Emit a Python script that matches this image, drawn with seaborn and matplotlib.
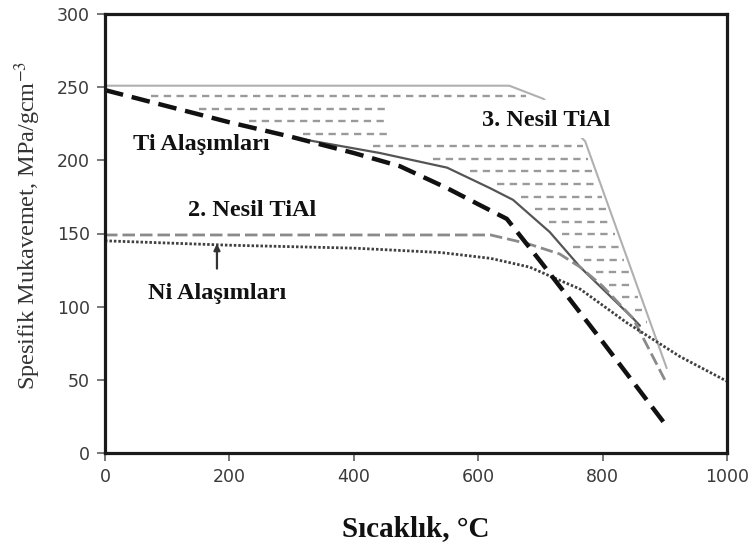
import matplotlib
matplotlib.use("Agg")
import matplotlib.pyplot as plt
import numpy as np
import seaborn as sns

# values: temperature (C) vs specific strength (MPa/gcm-3)
ti_x = [0, 100, 200, 300, 400, 474, 550, 600, 646, 700, 800, 900]
ti_y = [248, 237, 226, 216, 205, 196, 181, 170, 160, 131, 76, 20]

ti_upper_x = [310, 442, 550, 619, 656, 715, 764, 849, 860]
ti_upper_y = [215, 205, 195, 181, 173, 151, 127, 92, 87]

tial3_x = [0, 650, 705, 772, 903]
tial3_y = [251, 251, 242, 213, 58]

tial2_x = [0, 620, 680, 731, 764, 800, 849, 900]
tial2_y = [149, 149, 143, 136, 127, 114, 92, 50]

ni_x = [0, 200, 400, 540, 620, 683, 731, 764, 839, 924, 1000]
ni_y = [145, 142, 140, 137, 133, 127, 118, 112, 89, 66, 49]

x_ticks = [0, 200, 400, 600, 800, 1000]
y_ticks = [0, 50, 100, 150, 200, 250, 300]

sns.set_style("ticks")
plt.rcParams["mathtext.fontset"] = "stix"
serif = ["Liberation Serif", "DejaVu Serif"]

fig = plt.figure(figsize=(7.55, 5.46), dpi=100)
ax = fig.add_axes([105 / 755, 93 / 546, 622 / 755, 439 / 546])

# hatch of the 3rd generation TiAl field: dashed rows between the boundaries
low_x = np.array([x for x in ti_x if x < ti_upper_x[0]] + ti_upper_x, dtype=float)
low_y = np.array([y for x, y in zip(ti_x, ti_y) if x < ti_upper_x[0]] + ti_upper_y, dtype=float)
up_x = np.array(tial3_x[1:], dtype=float)
up_y = np.array(tial3_y[1:], dtype=float)
for yr in np.arange(244, 88, -8.6):
    x0 = np.interp(yr - 3, low_y[::-1], low_x[::-1]) + 10
    x1 = np.interp(yr + 2, up_y[::-1], up_x[::-1]) - 4
    if x1 > x0:
        ax.hlines(yr, x0, x1, colors="#9a9a9a", linewidth=1.7,
                  linestyles=(0, (3.1, 2.3)), zorder=1)

sns.lineplot(x=tial3_x, y=tial3_y, ax=ax, color="#b0b0b0", linewidth=1.5, zorder=2)
sns.lineplot(x=ti_upper_x, y=ti_upper_y, ax=ax, color="#555555", linewidth=1.6, zorder=2)
sns.lineplot(x=tial2_x, y=tial2_y, ax=ax, color="#8a8a8a", linewidth=2.0,
             linestyle=(0, (4.5, 1.8)), zorder=2)
sns.lineplot(x=ni_x, y=ni_y, ax=ax, color="#404040", linewidth=2.0,
             linestyle=(0, (0.9, 0.7)), zorder=2)
sns.lineplot(x=ti_x, y=ti_y, ax=ax, color="#111111", linewidth=3.2,
             linestyle=(0, (4.2, 2.0)), zorder=2)

# white patch behind the "3. Nesil TiAl" label
ax.add_patch(plt.Rectangle((453, 215), 435, 26, facecolor="white",
                           edgecolor="none", zorder=3))

lbl = dict(fontsize=17.5, fontweight="bold", family=serif, color="#111111",
           ha="center", va="center", zorder=4)
ax.text(155, 211, "Ti Alaşımları", **lbl)
ax.text(236, 166, "2. Nesil TiAl", **lbl)
ax.text(181, 109, "Ni Alaşımları", **lbl)
ax.text(709, 227, "3. Nesil TiAl", **lbl)
ax.annotate("", xy=(180, 143), xytext=(180, 126),
            arrowprops=dict(arrowstyle="-|>", color="#333333", lw=1.6,
                            mutation_scale=9, shrinkA=0, shrinkB=0))

ax.set_xlim(0, 1000)
ax.set_ylim(0, 300)
ax.set_xticks(x_ticks)
ax.set_yticks(y_ticks)
ax.tick_params(axis="both", direction="out", length=6, width=1.4,
               color="#777777", labelsize=12.5, labelcolor="#3a3a3a", pad=5)
for s in ax.spines.values():
    s.set_visible(True)
    s.set_linewidth(2.3)
    s.set_color("#1a1a1a")

ax.set_xlabel("Sıcaklık, °C", fontsize=21, fontweight="bold", family=serif,
              color="#111111")
ax.set_ylabel(r"Spesifik Mukavemet, MPa/gcm$^{-3}$", fontsize=17.5, family=serif,
              color="#333333")
ax.xaxis.set_label_coords(0.5, -0.142)
ax.yaxis.set_label_coords(-0.1, 0.519)

fig.savefig("out.png", dpi=100)
